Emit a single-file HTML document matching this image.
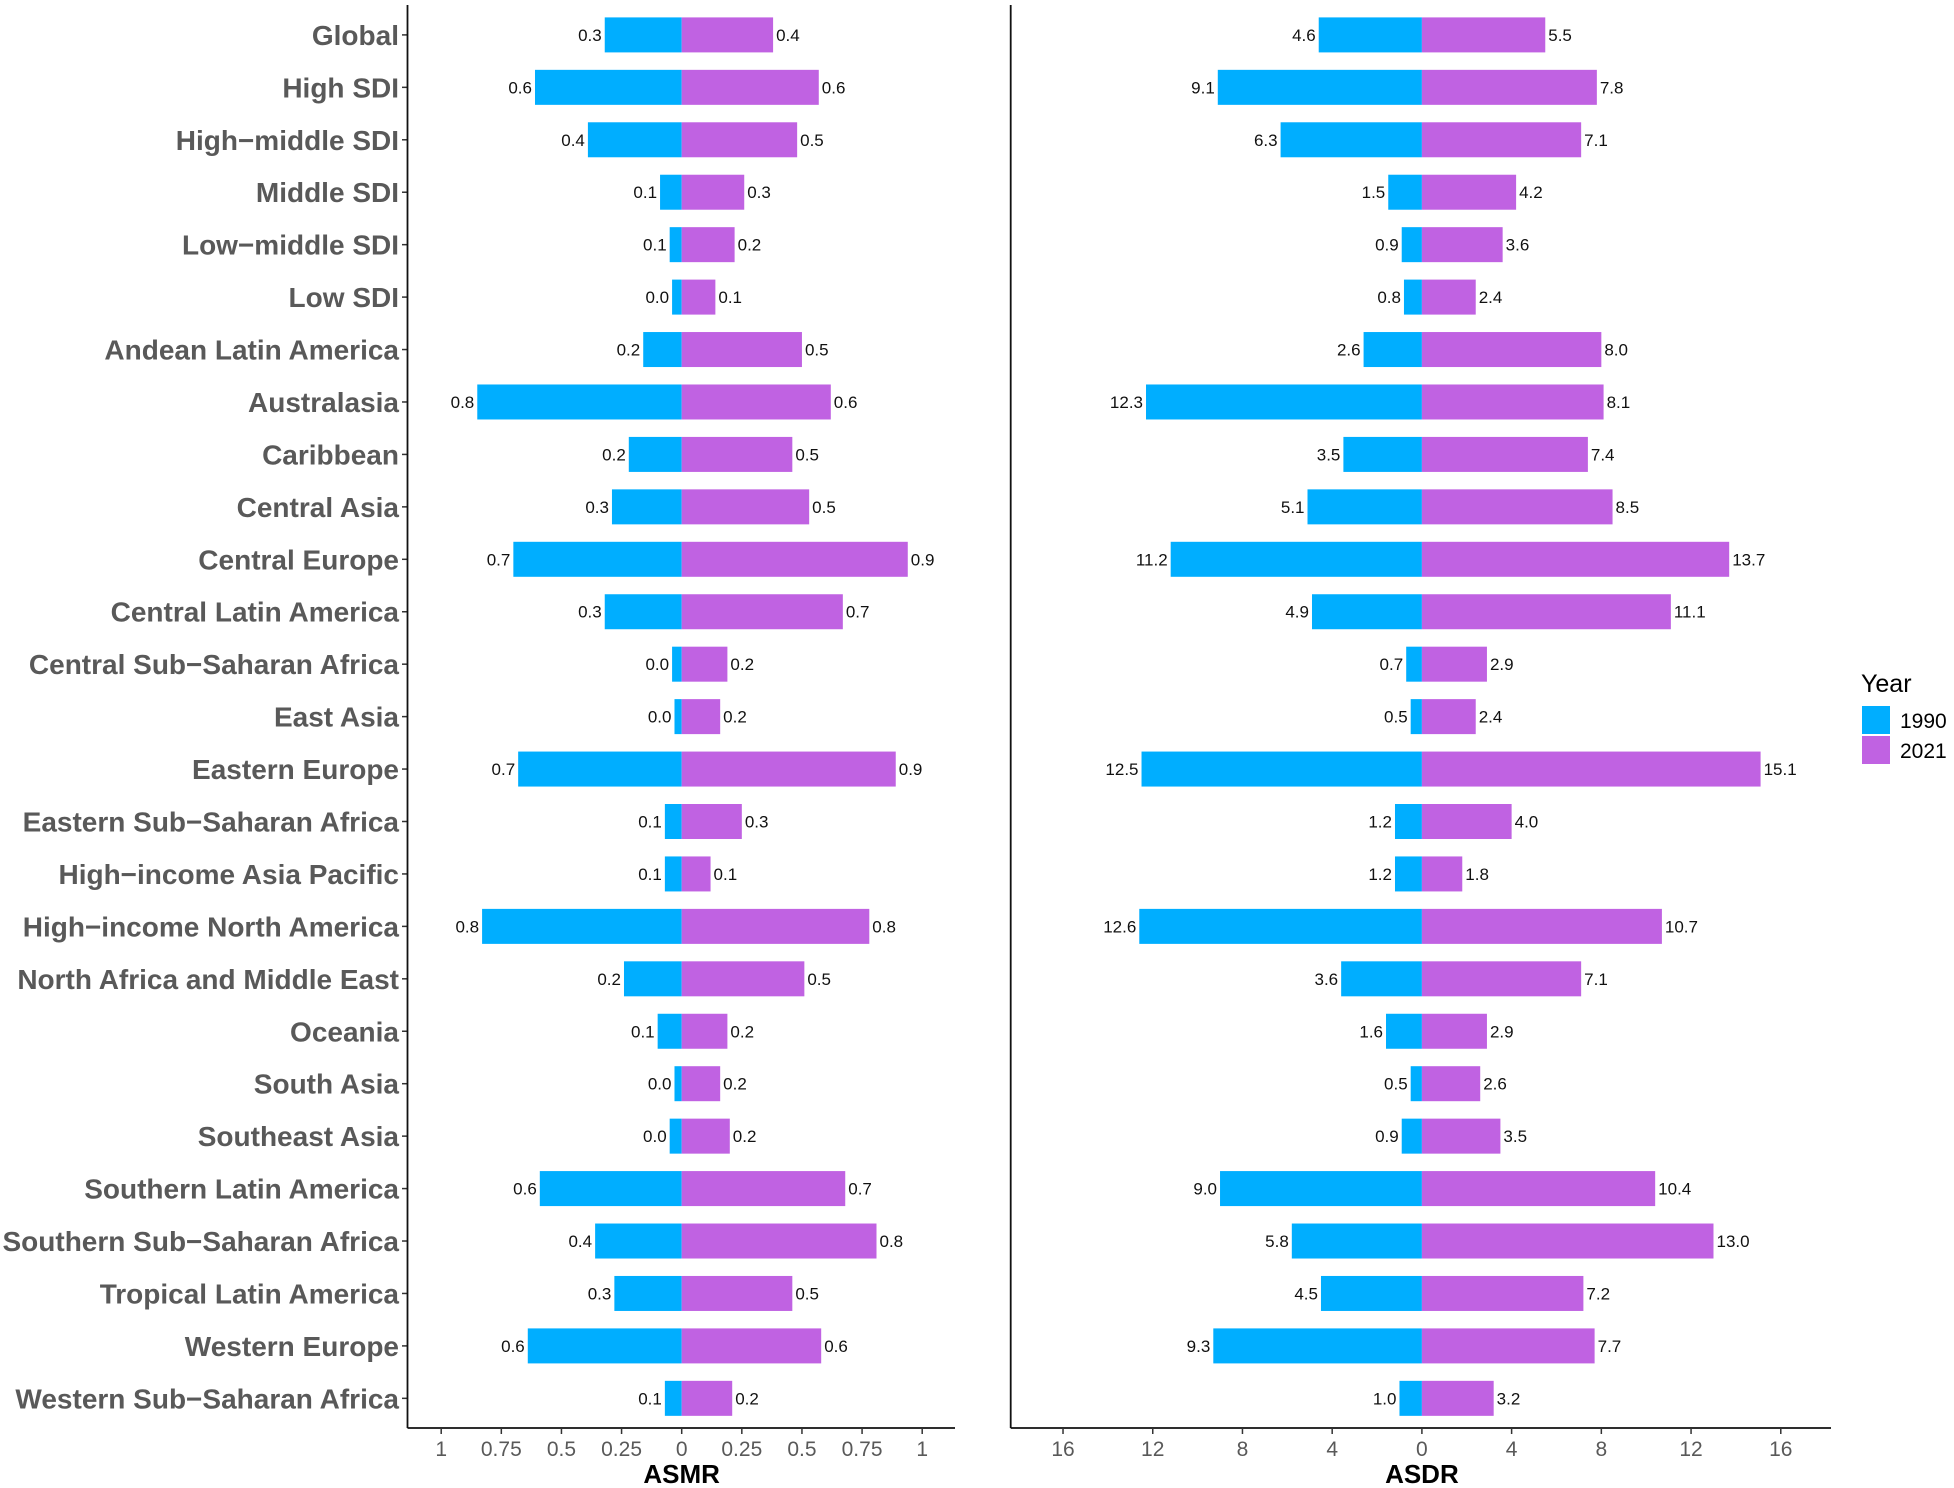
<!DOCTYPE html>
<html><head><meta charset="utf-8"><style>
body{margin:0;background:#fff}
svg{display:block;font-family:"Liberation Sans",Arial,sans-serif}
</style></head><body>
<svg id="chart" width="1954" height="1488" viewBox="0 0 1954 1488" xmlns="http://www.w3.org/2000/svg"></svg>
<script>
const categories=["Global","High SDI","High\u2212middle SDI","Middle SDI","Low\u2212middle SDI","Low SDI","Andean Latin America","Australasia","Caribbean","Central Asia","Central Europe","Central Latin America","Central Sub\u2212Saharan Africa","East Asia","Eastern Europe","Eastern Sub\u2212Saharan Africa","High\u2212income Asia Pacific","High\u2212income North America","North Africa and Middle East","Oceania","South Asia","Southeast Asia","Southern Latin America","Southern Sub\u2212Saharan Africa","Tropical Latin America","Western Europe","Western Sub\u2212Saharan Africa"];
const asmr1990=[0.32,0.61,0.39,0.09,0.05,0.04,0.16,0.85,0.22,0.29,0.70,0.32,0.04,0.03,0.68,0.07,0.07,0.83,0.24,0.10,0.03,0.05,0.59,0.36,0.28,0.64,0.07];
const asmr2021=[0.38,0.57,0.48,0.26,0.22,0.14,0.50,0.62,0.46,0.53,0.94,0.67,0.19,0.16,0.89,0.25,0.12,0.78,0.51,0.19,0.16,0.20,0.68,0.81,0.46,0.58,0.21];
const asmrLabel1990=["0.3","0.6","0.4","0.1","0.1","0.0","0.2","0.8","0.2","0.3","0.7","0.3","0.0","0.0","0.7","0.1","0.1","0.8","0.2","0.1","0.0","0.0","0.6","0.4","0.3","0.6","0.1"];
const asmrLabel2021=["0.4","0.6","0.5","0.3","0.2","0.1","0.5","0.6","0.5","0.5","0.9","0.7","0.2","0.2","0.9","0.3","0.1","0.8","0.5","0.2","0.2","0.2","0.7","0.8","0.5","0.6","0.2"];
const asdr1990=[4.6,9.1,6.3,1.5,0.9,0.8,2.6,12.3,3.5,5.1,11.2,4.9,0.7,0.5,12.5,1.2,1.2,12.6,3.6,1.6,0.5,0.9,9.0,5.8,4.5,9.3,1.0];
const asdr2021=[5.5,7.8,7.1,4.2,3.6,2.4,8.0,8.1,7.4,8.5,13.7,11.1,2.9,2.4,15.1,4.0,1.8,10.7,7.1,2.9,2.6,3.5,10.4,13.0,7.2,7.7,3.2];
const asmrTicks=[1,0.75,0.5,0.25,0,0.25,0.5,0.75,1];
const asmrTickVals=[-1,-0.75,-0.5,-0.25,0,0.25,0.5,0.75,1];
const asdrTicks=["16","12","8","4","0","4","8","12","16"];
const asdrTickVals=[-16,-12,-8,-4,0,4,8,12,16];

const svg=document.getElementById('chart');
const NS='http://www.w3.org/2000/svg';
function mk(tag,attrs,parent,text){const e=document.createElementNS(NS,tag);for(const k in attrs)e.setAttribute(k,attrs[k]);if(text!==undefined)e.textContent=text;(parent||svg).appendChild(e);return e;}
const C1='#00AEFF',C2='#C062E2';
const y0=34.9,step=52.44,bh=35,axisY=1428,topY=5;
function yPos(i){return y0+i*step;}

categories.forEach((c,i)=>{
  const t=mk('text',{x:399,y:yPos(i)+10,'text-anchor':'end','font-size':28,'font-weight':'bold',fill:'#595959'},svg,c);
  
  
  const tk=mk('line',{x1:402,x2:407.5,y1:yPos(i),y2:yPos(i),stroke:'#333','stroke-width':1.5});
  
  
});

function panel(name,axisX,zeroX,scale,rightX,d1,d2,l1,l2,tickLabels,tickVals,title){
  const g=mk('g',{});
  
  
  const xs=v=>zeroX+v*scale;
  d1.forEach((v,i)=>{
    const y=yPos(i);
    const r=mk('rect',{x:xs(-v),y:y-bh/2,width:xs(0)-xs(-v),height:bh,fill:C1},g);
    
    
    const r2=mk('rect',{x:xs(0),y:y-bh/2,width:xs(d2[i])-xs(0),height:bh,fill:C2},g);
    
    
    const t1=mk('text',{x:xs(-v)-3,y:y+6,'text-anchor':'end','font-size':17,fill:'#111'},g,l1[i]);
    
    
    const t2=mk('text',{x:xs(d2[i])+3,y:y+6,'text-anchor':'start','font-size':17,fill:'#111'},g,l2[i]);
    
    
  });
  const ya=mk('line',{x1:axisX,x2:axisX,y1:topY,y2:axisY,stroke:'#111','stroke-width':1.8},g);
  
  
  const xa=mk('line',{x1:axisX,x2:rightX,y1:axisY,y2:axisY,stroke:'#111','stroke-width':1.8},g);
  
  
  tickVals.forEach((v,i)=>{
    const tk=mk('line',{x1:xs(v),x2:xs(v),y1:axisY,y2:axisY+6,stroke:'#333','stroke-width':1.5},g);
    
    
    const tl=mk('text',{x:xs(v),y:axisY+28,'text-anchor':'middle','font-size':21,fill:'#595959'},g,String(tickLabels[i]));
    
    
  });
  const tt=mk('text',{x:zeroX,y:1483,'text-anchor':'middle','font-size':26,'font-weight':'bold',fill:'#000'},g,title);
  
  
}
panel('asmr',407.5,681.7,240.5,955,asmr1990,asmr2021,asmrLabel1990,asmrLabel2021,asmrTicks,asmrTickVals,'ASMR');
const asdrL1=asdr1990.map(v=>v.toFixed(1)),asdrL2=asdr2021.map(v=>v.toFixed(1));
panel('asdr',1010.7,1421.9,22.43,1831,asdr1990,asdr2021,asdrL1,asdrL2,asdrTicks,asdrTickVals,'ASDR');

const lg=mk('g',{});


const lt=mk('text',{x:1861,y:692,'font-size':25,fill:'#000'},lg,'Year');


[['1990',C1,706],['2021',C2,736]].forEach(([lab,col,y])=>{
  const k=mk('rect',{x:1862,y:y,width:28,height:28,fill:col},lg);
  
  
  const t=mk('text',{x:1900,y:y+22,'font-size':21,fill:'#000'},lg,lab);
  
  
});
</script>
</body></html>
